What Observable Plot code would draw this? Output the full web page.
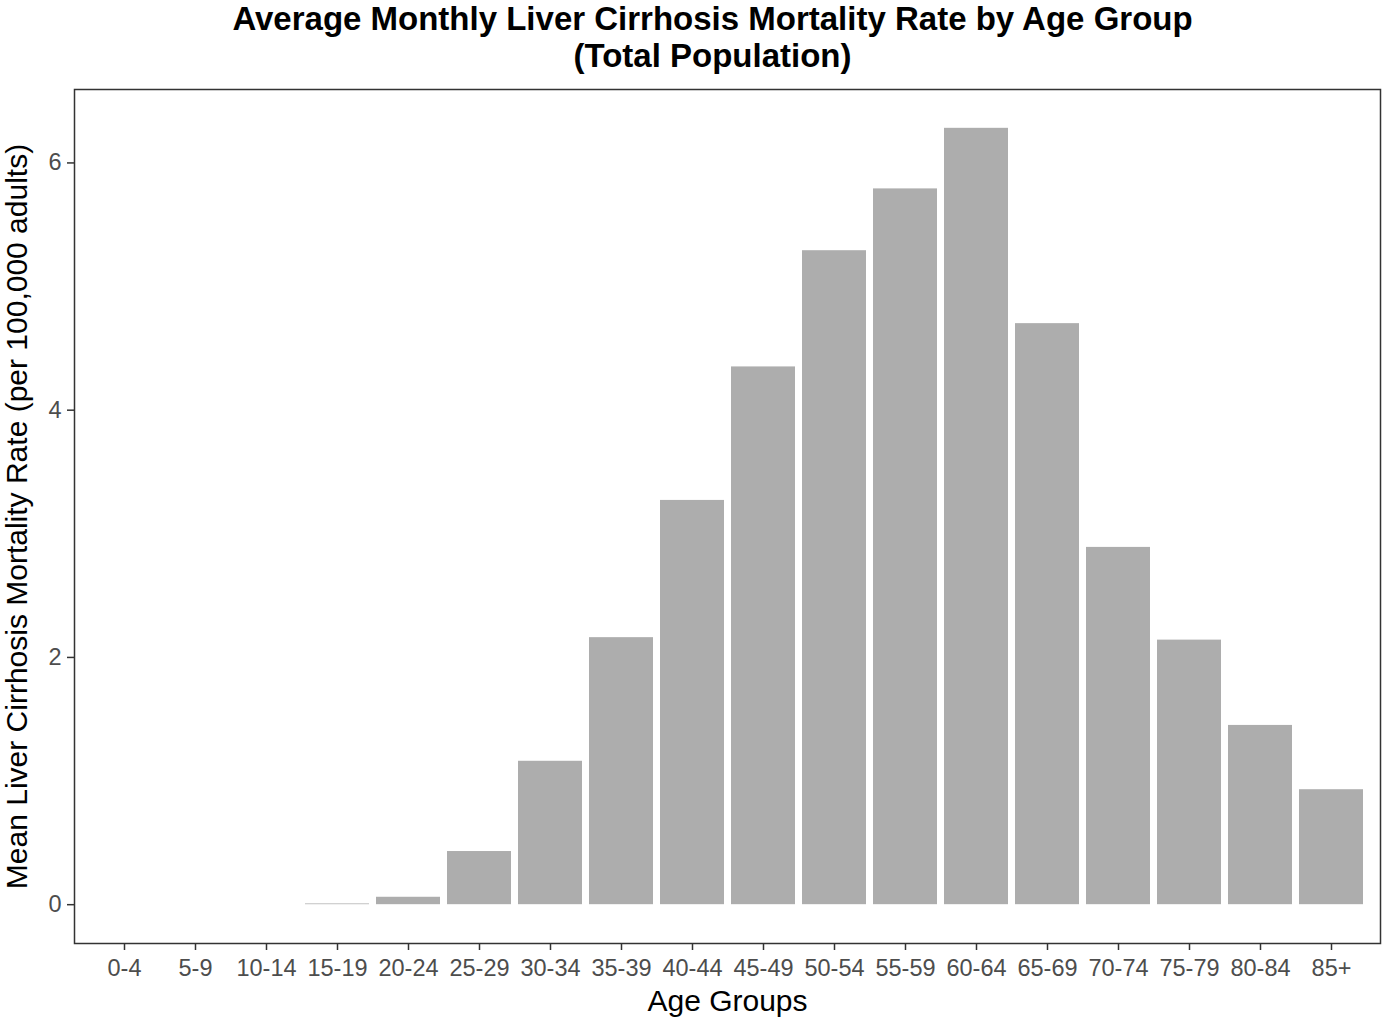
<!DOCTYPE html>
<html>
<head>
<meta charset="utf-8">
<script src="https://cdn.jsdelivr.net/npm/d3@7"></script>
<script src="https://cdn.jsdelivr.net/npm/@observablehq/plot@0.6"></script>
<style>
  html, body { margin: 0; padding: 0; background: #fff; }
  #chart { position: relative; width: 1382px; height: 1021px; }
  svg { font-family: "Liberation Sans", Arial, Helvetica, sans-serif; }
</style>
</head>
<body>
<div id="chart"></div>
<script>
const ageGroups = ["0-4","5-9","10-14","15-19","20-24","25-29","30-34","35-39","40-44","45-49","50-54","55-59","60-64","65-69","70-74","75-79","80-84","85+"];
const meanRates = [0, 0, 0, 0.006, 0.06, 0.43, 1.16, 2.16, 3.27, 4.35, 5.29, 5.79, 6.28, 4.70, 2.89, 2.14, 1.45, 0.93];
const yTicks = [0, 2, 4, 6];
const titleLines = ["Average Monthly Liver Cirrhosis Mortality Rate by Age Group", "(Total Population)"];
const xTitle = "Age Groups";
const yTitle = "Mean Liver Cirrhosis Mortality Rate (per 100,000 adults)";

const data = ageGroups.map((g, i) => ({group: g, rate: meanRates[i]}));
const yMax = d3.max(meanRates);
const pad = yMax * 0.05;

const chart = Plot.plot({
  width: 1382,
  height: 1021,
  marginLeft: 74,
  marginRight: 2,
  marginTop: 89,
  marginBottom: 78,
  style: {fontFamily: '"Liberation Sans", Arial, Helvetica, sans-serif', background: "#fff"},
  x: {domain: ageGroups, paddingInner: 0.1, paddingOuter: 0.15},
  y: {domain: [-pad, yMax + pad]},
  marks: [
    Plot.barY(data, {x: "group", y: "rate", fill: "#ADADAD"}),
    Plot.frame({stroke: "#333333", strokeWidth: 1.5}),
    Plot.axisY({ticks: yTicks, tickSize: 7, tickPadding: 6, fontSize: 23.5, color: "#4D4D4D", stroke: "#333333", strokeWidth: 1.5, label: null, tickFormat: d => d}),
    Plot.axisX({tickSize: 7, tickPadding: 9, fontSize: 23.5, color: "#4D4D4D", stroke: "#333333", strokeWidth: 1.5, label: null}),
    Plot.text([xTitle], {frameAnchor: "bottom", dy: 58, text: d => d, fontSize: 30, fill: "#000", textAnchor: "middle", lineAnchor: "middle"}),
    Plot.text([yTitle], {frameAnchor: "left", dx: -57, rotate: -90, text: d => d, fontSize: 30, fill: "#000", textAnchor: "middle", lineAnchor: "middle"}),
    Plot.text([titleLines.join("\n")], {frameAnchor: "top", dx: -15, dy: -86, text: d => d, fontSize: 33, fontWeight: "bold", fill: "#000", textAnchor: "middle", lineAnchor: "top", lineHeight: 1.12})
  ]
});
document.getElementById("chart").appendChild(chart);
</script>
</body>
</html>
